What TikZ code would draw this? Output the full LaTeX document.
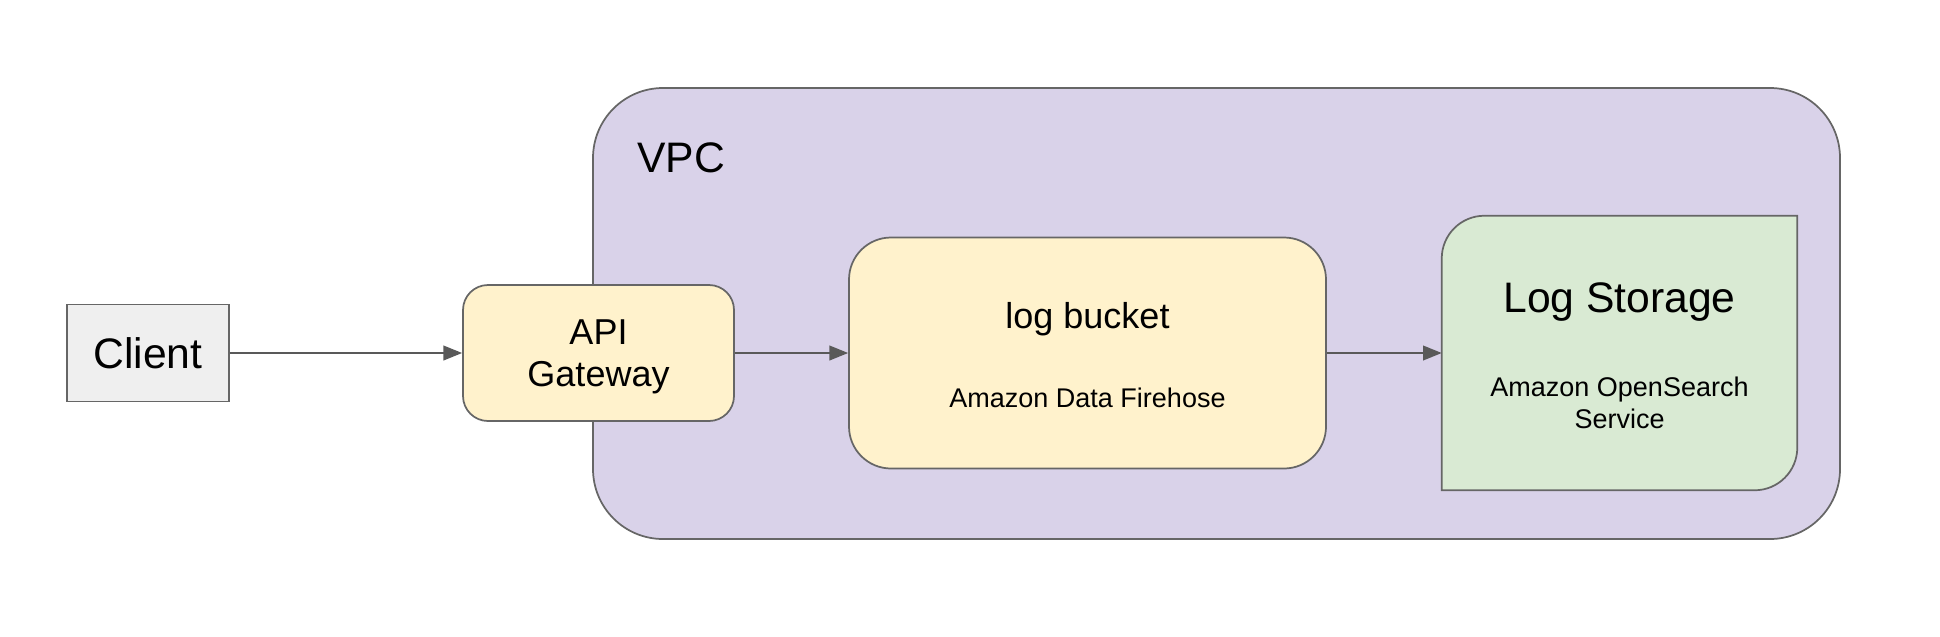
\documentclass[tikz,border=0pt]{standalone}
\usepackage{fontspec}
\setmainfont{Liberation Sans}
\usepackage{tikz}
\usetikzlibrary{arrows.meta}
\definecolor{edgegray}{HTML}{666666}
\definecolor{arrowgray}{HTML}{595959}
\definecolor{clientfill}{HTML}{EFEFEF}
\definecolor{vpcfill}{HTML}{D9D2E9}
\definecolor{yellowfill}{HTML}{FFF2CC}
\definecolor{storefill}{HTML}{D9EAD3}

\begin{document}
\begin{tikzpicture}[x=0.75pt,y=-0.75pt,
	boxline/.style={draw=edgegray, line width=1.3pt},
	bigtext/.style={font=\fontsize{32}{38}\selectfont},
	midtext/.style={font=\fontsize{27}{31.5}\selectfont},
	smalltext/.style={font=\fontsize{20.25}{24}\selectfont},
	clientbox/.style={boxline, fill=clientfill, minimum width=121.5pt, minimum height=72.75pt, inner sep=0pt, bigtext},
	vpcbox/.style={boxline, fill=vpcfill, rounded corners=52.5pt, minimum width=935.25pt, minimum height=338.25pt},
	gatewaybox/.style={boxline, fill=yellowfill, rounded corners=18.75pt, minimum width=203.25pt, minimum height=102pt, inner sep=0pt, align=center, text depth=0pt, midtext},
	bucketbox/.style={boxline, fill=yellowfill, rounded corners=31.5pt, minimum width=357.75pt, minimum height=173.25pt},
	storebox/.style={minimum width=266.25pt, minimum height=205.5pt},
	flow/.style={draw=arrowgray, line width=1.3pt, -{Triangle[length=14pt,width=11pt]}}]
	\useasboundingbox (0,0) rectangle (1940,636);
	\node[vpcbox] (vpc) at (1216.5,313.5) {};
	\node[bigtext, anchor=base west, inner sep=0pt] (vpclabel) at (637,172) {VPC};
	\node[clientbox] (client) at (148,353) {Client};
	\node[gatewaybox] (gateway) at (598.5,353) {API\\Gateway};
	\node[bucketbox] (bucket) at (1087.5,353) {};
	\node[midtext, anchor=base] (buckettitle) at (1087.5,328) {log bucket};
	\node[smalltext, anchor=base] (bucketsub) at (1087.5,407) {Amazon Data Firehose};
	\node[storebox] (store) at (1619.5,353) {};
	\path[boxline, fill=storefill] (store.south west) -- ([yshift=-32pt]store.north west) arc[start angle=180, end angle=90, radius=32pt] -- (store.north east) -- ([yshift=32pt]store.south east) arc[start angle=0, end angle=-90, radius=32pt] -- cycle;
	\node[bigtext, anchor=base] (storetitle) at (1619.5,312) {Log Storage};
	\node[smalltext, align=center] (storesub) at (1619.5,403) {Amazon OpenSearch\\Service};
	\draw[flow] (client) -- (gateway);
	\draw[flow] (gateway) -- (bucket);
	\draw[flow] (bucket) -- (store);
\end{tikzpicture}
\end{document}
